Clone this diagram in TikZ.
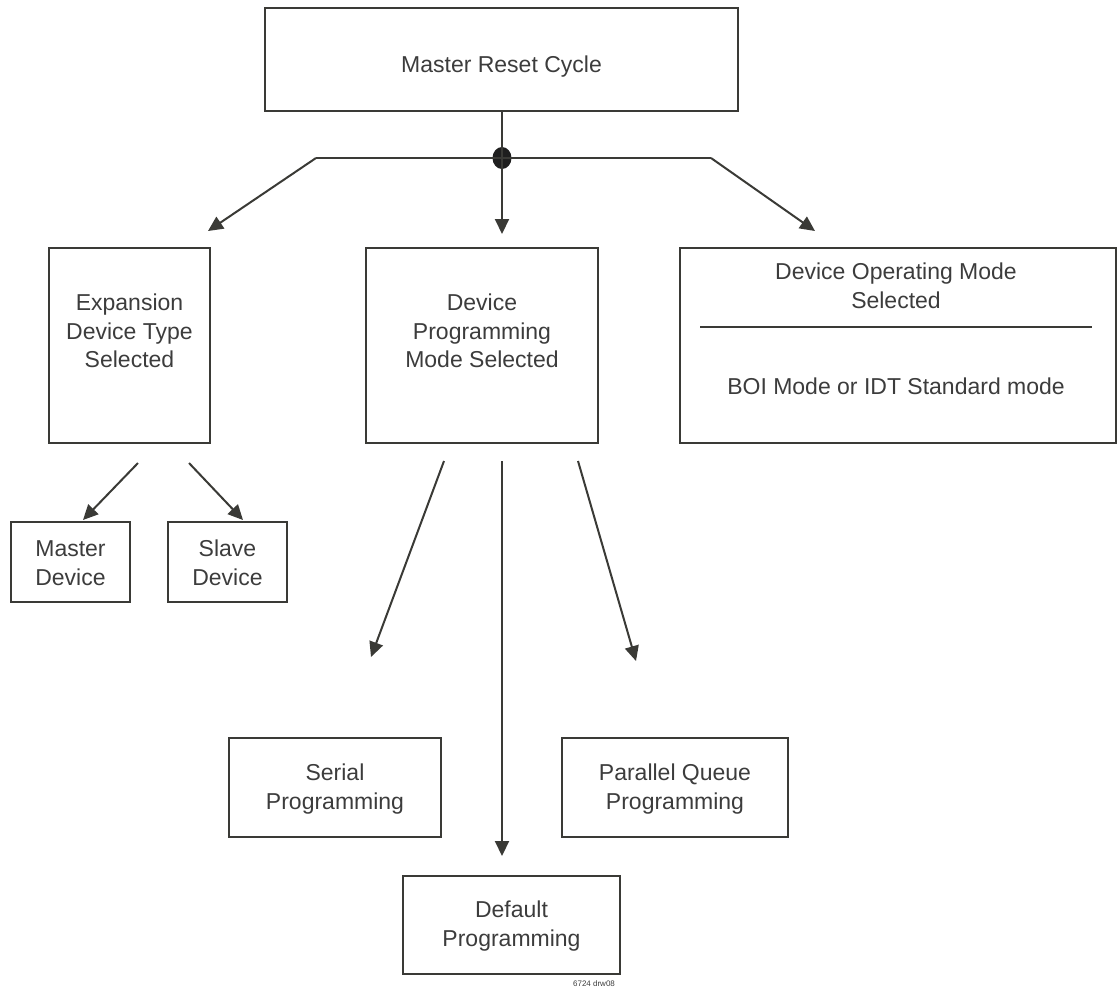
\documentclass[tikz,border=0pt]{standalone}
\usepackage{fontspec}
\setmainfont{Liberation Sans}
\usetikzlibrary{arrows.meta,shapes.geometric}
\definecolor{ink}{HTML}{3A3A36}
\definecolor{txt}{HTML}{3C3C3C}
\tikzset{
  box/.style={draw=ink, line width=2pt, minimum width=#1, inner sep=0pt},
  lbl/.style={text=txt, align=center, font=\fontsize{23}{28.5}\selectfont, inner sep=0pt},
  conn/.style={draw=ink, line width=2pt},
  arr/.style={conn, -{Triangle[length=15pt,width=14pt]}}
}
\begin{document}
\begin{tikzpicture}[x=1pt,y=-1pt]
\useasboundingbox (0,0) rectangle (1118,989);
% boxes
\node[box=473pt, minimum height=103pt] (reset) at (501.5,59.5) {};
\node[lbl] (resett) at (501.5,67) {Master Reset Cycle};

\node[box=161pt, minimum height=195pt] (exp) at (129.5,345.5) {};
\node[lbl] (expt) at (129.5,331) {Expansion\\Device Type\\Selected};

\node[box=232pt, minimum height=195pt] (prog) at (482,345.5) {};
\node[lbl] (progt) at (482,331) {Device\\Programming\\Mode Selected};

\node[box=436pt, minimum height=195pt] (oper) at (898,345.5) {};
\node[lbl] (opert) at (896,286) {Device Operating Mode\\Selected};
\coordinate (ruleL) at (700,327);
\coordinate (ruleR) at (1092,327);
\draw[conn] (ruleL) -- (ruleR);
\node[lbl] (opermode) at (896,386) {BOI Mode or IDT Standard mode};

\node[box=119pt, minimum height=80pt] (master) at (70.5,562) {};
\node[lbl] (mastert) at (70.5,563) {Master\\Device};
\node[box=119pt, minimum height=80pt] (slave) at (227.5,562) {};
\node[lbl] (slavet) at (227.5,563) {Slave\\Device};

\node[box=212pt, minimum height=99pt] (serial) at (335,787.5) {};
\node[lbl] (serialt) at (335,789) {Serial\\Programming};
\node[box=226pt, minimum height=99pt] (par) at (675,787.5) {};
\node[lbl] (part) at (675,789) {Parallel Queue\\Programming};
\node[box=217pt, minimum height=98pt] (def) at (511.5,925) {};
\node[lbl] (deft) at (511.5,926) {Default\\Programming};

\node[text=txt, font=\fontsize{8}{9}\selectfont, inner sep=0pt] (drw) at (594,984) {6724 drw08};

% junction
\node[ellipse, fill=black!88, minimum width=19pt, minimum height=22pt, inner sep=0pt] (dot) at (502,158) {};
\coordinate (jl) at (316,158);
\coordinate (jr) at (711,158);
\coordinate (tl) at (208,231);
\coordinate (tm) at (502,234);
\coordinate (tr) at (815,231);
\draw[conn] (reset.south -| dot) -- (dot.center);
\draw[conn] (jl) -- (jr);
\draw[arr] (jl) -- (tl);
\draw[arr] (dot.center) -- (tm);
\draw[arr] (jr) -- (tr);

% expansion outputs
\coordinate (e1) at (138,463);
\coordinate (e1t) at (83,520);
\coordinate (e2) at (189,463);
\coordinate (e2t) at (243,520);
\draw[arr] (e1) -- (e1t);
\draw[arr] (e2) -- (e2t);

% programming outputs
\coordinate (p1) at (444,461);
\coordinate (p1t) at (371,657);
\coordinate (p2) at (502,461);
\coordinate (p2t) at (502,856);
\coordinate (p3) at (578,461);
\coordinate (p3t) at (636,661);
\draw[arr] (p1) -- (p1t);
\draw[arr] (p2) -- (p2t);
\draw[arr] (p3) -- (p3t);
\end{tikzpicture}
\end{document}
